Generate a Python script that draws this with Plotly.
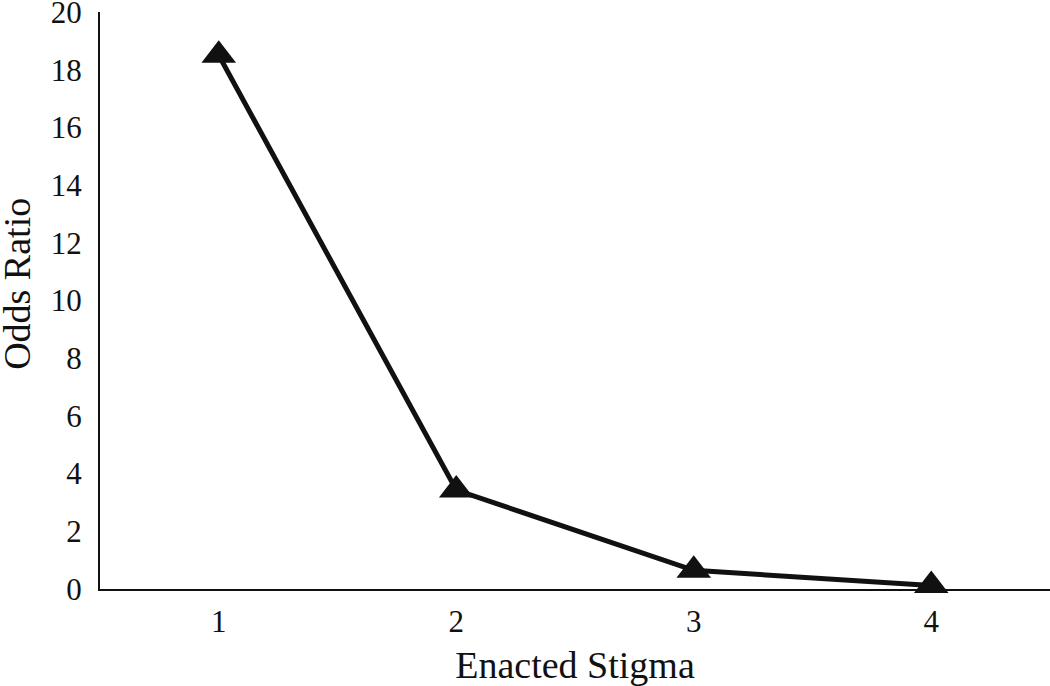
import plotly.graph_objects as go

categories = ["1", "2", "3", "4"]
odds_ratio = [18.5, 3.43, 0.65, 0.12]
y_ticks = [0, 2, 4, 6, 8, 10, 12, 14, 16, 18, 20]

fig = go.Figure()
fig.add_trace(go.Scatter(
    x=categories, y=odds_ratio, mode="lines+markers",
    line=dict(color="#111111", width=5),
    marker=dict(symbol="triangle-up", size=30, color="#111111"),
    cliponaxis=False, showlegend=False,
))

font = dict(family="Liberation Serif, Times New Roman, serif", color="#111111")
fig.update_layout(
    width=1050, height=686,
    margin=dict(l=100, r=0, t=12, b=97),
    paper_bgcolor="white", plot_bgcolor="white",
    font=dict(size=31, **font),
    xaxis=dict(
        type="category", range=[-0.5, 3.5], automargin=False,
        showline=True, linecolor="#111111", linewidth=2,
        showgrid=False, zeroline=False, ticks="",
        tickfont=dict(size=31, **font), ticklabelstandoff=4,
        title=dict(text="Enacted Stigma", font=dict(size=38, **font), standoff=14),
    ),
    yaxis=dict(
        range=[0, 20], tickvals=y_ticks, automargin=False,
        showline=True, linecolor="#111111", linewidth=2,
        showgrid=False, zeroline=False, ticks="",
        tickfont=dict(size=31, **font), ticklabelstandoff=10,
        ticklabeloverflow="allow",
    ),
    annotations=[dict(
        text="Odds Ratio", textangle=-90, showarrow=False,
        xref="paper", yref="paper", x=-0.0875, y=0.5286,
        xanchor="center", yanchor="middle",
        font=dict(size=38, **font),
    )],
)
fig.write_html("out.html", config={"displayModeBar": False},
               post_script="document.body.style.margin='0';")
